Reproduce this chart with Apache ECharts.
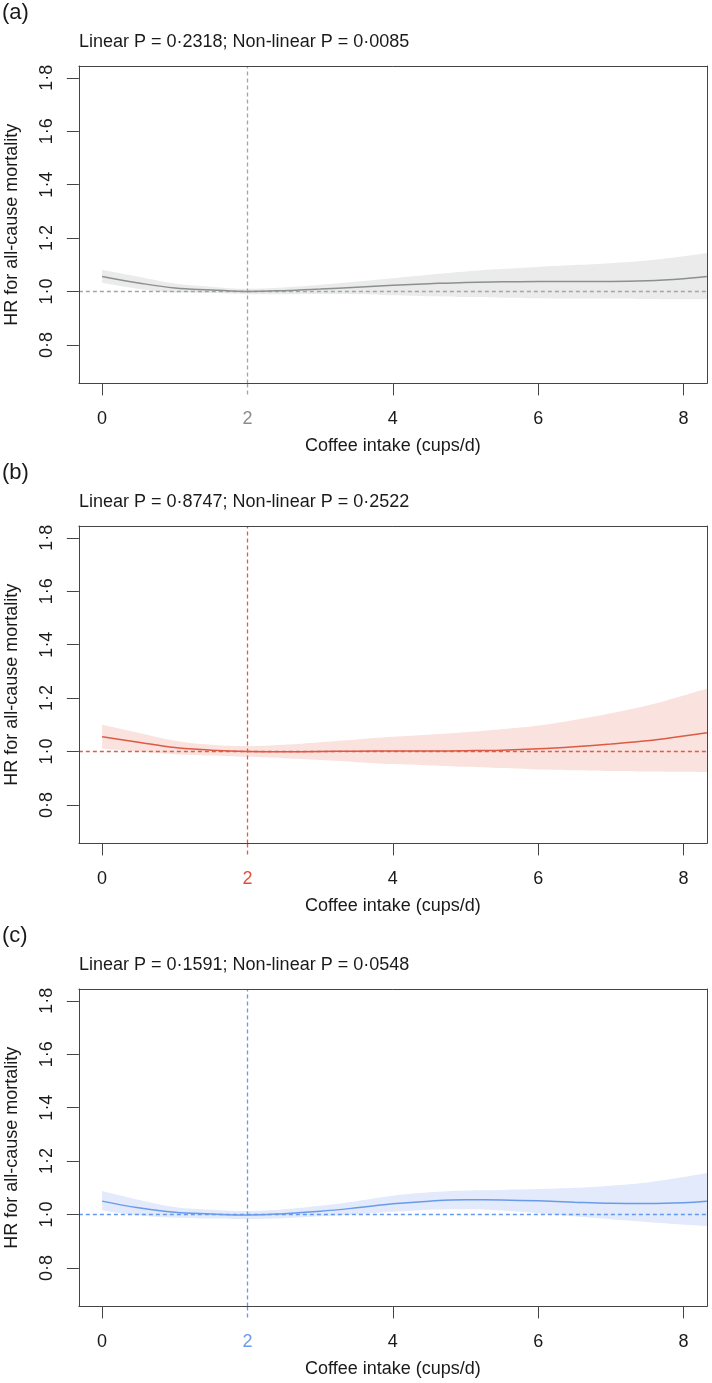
<!DOCTYPE html>
<html><head><meta charset="utf-8">
<script src="https://cdn.jsdelivr.net/npm/echarts@6/dist/echarts.min.js"></script>
<style>html,body{margin:0;padding:0;background:#fff}#c{width:712px;height:1383px}</style>
</head><body><div id="c"></div>
<script>
// ---- data ----
const xs = [0, 0.5, 1, 1.5, 2, 2.5, 3, 3.5, 4, 4.5, 5, 5.5, 6, 6.5, 7, 7.5, 8, 8.32];
const hrA    = [1.056,1.032,1.013,1.006,1.000,1.003,1.009,1.016,1.023,1.029,1.034,1.036,1.037,1.037,1.037,1.040,1.048,1.056];
const upperA = [1.081,1.055,1.030,1.018,1.010,1.015,1.025,1.037,1.050,1.063,1.075,1.084,1.092,1.099,1.106,1.116,1.132,1.144];
const lowerA = [1.033,1.010,0.996,0.994,0.990,0.990,0.991,0.990,0.986,0.982,0.979,0.977,0.975,0.974,0.974,0.972,0.971,0.971];
const hrB    = [1.055,1.035,1.015,1.005,1.000,0.999,1.000,1.001,1.002,1.002,1.003,1.005,1.010,1.018,1.028,1.040,1.058,1.070];
const upperB = [1.100,1.070,1.040,1.025,1.020,1.025,1.035,1.045,1.055,1.063,1.072,1.083,1.097,1.118,1.143,1.172,1.210,1.235];
const lowerB = [1.010,1.000,0.990,0.985,0.980,0.975,0.968,0.960,0.953,0.948,0.943,0.938,0.933,0.930,0.927,0.925,0.924,0.923];
const hrC    = [1.050,1.025,1.008,1.002,0.998,1.003,1.012,1.025,1.040,1.050,1.055,1.054,1.051,1.046,1.042,1.041,1.044,1.050];
const upperC = [1.088,1.055,1.028,1.018,1.013,1.020,1.033,1.050,1.070,1.083,1.090,1.092,1.095,1.100,1.108,1.120,1.140,1.155];
const lowerC = [1.015,0.997,0.988,0.985,0.983,0.986,0.993,1.000,1.010,1.018,1.020,1.015,1.005,0.993,0.982,0.972,0.962,0.957];
const xTicks = [0, 2, 4, 6, 8];
const yTicks = [0.8, 1.0, 1.2, 1.4, 1.6, 1.8];
const refX = 2, refY = 1.0;
const panelLabels = ['(a)', '(b)', '(c)'];
const pTexts = ['Linear P = 0·2318; Non-linear P = 0·0085',
                'Linear P = 0·8747; Non-linear P = 0·2522',
                'Linear P = 0·1591; Non-linear P = 0·0548'];
const xName = 'Coffee intake (cups/d)';
const yName = 'HR for all-cause mortality';

// ---- styling ----
const panels = [
  {hr: hrA, up: upperA, lo: lowerA, line: '#8a928b', band: '#ebebeb', ref: '#a4a4a4', hl: '#8c8c8c'},
  {hr: hrB, up: upperB, lo: lowerB, line: '#dd5a44', band: '#fae2de', ref: '#e65a45', hl: '#e0503c'},
  {hr: hrC, up: upperC, lo: lowerC, line: '#6a9be9', band: '#e2eafb', ref: '#6399ee', hl: '#6b9be9'}
];
const FONT = 'Liberation Sans, Arial, Helvetica, sans-serif';
const TXT = '#1a1a1a';
const BOX = '#444';
const tops = [66, 526, 989];
const LEFT = 78.87, W = 628;
const H = 317.4;
const XMIN = -0.32, XMAX = 8.32, YMIN = 0.656, YMAX = 1.844;

const option = {animation: false, backgroundColor: '#fff',
  title: [], grid: [], xAxis: [], yAxis: [], series: []};

const boxLine = {show: true, onZero: false, lineStyle: {color: BOX, width: 1}};

panels.forEach((p, i) => {
  const top = tops[i];
  option.title.push({text: panelLabels[i], left: 2, top: top - 64,
    textStyle: {fontFamily: FONT, fontSize: 22, fontWeight: 'normal', color: TXT}, padding: 0});
  option.title.push({text: pTexts[i], left: 79, top: top - 33,
    textStyle: {fontFamily: FONT, fontSize: 18, fontWeight: 'normal', color: TXT}, padding: 0});
  option.grid.push({left: LEFT, width: W, top: top, height: H, show: false,
    outerBoundsMode: 'none', containLabel: false});
  const xMain = option.xAxis.length;
  option.xAxis.push({type: 'value', gridIndex: i, min: XMIN, max: XMAX, position: 'bottom', z: 5,
    name: xName, nameLocation: 'middle', nameGap: 54,
    nameTextStyle: {fontFamily: FONT, fontSize: 18, color: TXT},
    axisLine: boxLine, splitLine: {show: false},
    axisTick: {show: true, length: 12, lineStyle: {color: BOX, width: 1},
      customValues: xTicks.filter(v => v !== refX)},
    axisLabel: {show: true, margin: 27, fontFamily: FONT, fontSize: 18, color: TXT,
      customValues: xTicks,
      formatter: v => v === refX ? '{hl|' + v + '}' : String(v),
      rich: {hl: {color: p.hl, fontFamily: FONT, fontSize: 18}}}});
  option.xAxis.push({type: 'value', gridIndex: i, min: XMIN, max: XMAX, position: 'bottom', z: 4,
    axisLine: {show: false, onZero: false}, splitLine: {show: false}, axisLabel: {show: false},
    axisTick: {show: true, length: 12, customValues: [refX],
      lineStyle: {color: p.ref, width: 1.3, type: [4, 3]}}});
  option.xAxis.push({type: 'value', gridIndex: i, min: XMIN, max: XMAX, position: 'top', z: 5,
    axisLine: boxLine, splitLine: {show: false}, axisLabel: {show: false}, axisTick: {show: false}});
  const yMain = option.yAxis.length;
  option.yAxis.push({type: 'value', gridIndex: i, min: YMIN, max: YMAX, position: 'left', z: 5,
    name: yName, nameLocation: 'middle', nameGap: 58,
    nameTextStyle: {fontFamily: FONT, fontSize: 18, color: TXT},
    axisLine: boxLine, splitLine: {show: false},
    axisTick: {show: true, length: 12, lineStyle: {color: BOX, width: 1}, customValues: yTicks},
    axisLabel: {show: true, rotate: 90, margin: 23, fontFamily: FONT, fontSize: 18, color: TXT,
      customValues: yTicks, formatter: v => v.toFixed(1).replace('.', '·')}});
  option.yAxis.push({type: 'value', gridIndex: i, min: YMIN, max: YMAX, position: 'right', z: 5,
    axisLine: boxLine, splitLine: {show: false}, axisLabel: {show: false}, axisTick: {show: false}});
  // confidence band: stacked (lower + width), values given as [y, x] so the y column is stacked
  const stackId = 'band' + i;
  option.series.push({type: 'line', xAxisIndex: xMain, yAxisIndex: yMain, stack: stackId,
    encode: {x: 1, y: 0},
    data: xs.map((x, k) => [p.lo[k], x]), symbol: 'none', smooth: 0.4,
    lineStyle: {width: 0, opacity: 0}, silent: true, z: 1});
  option.series.push({type: 'line', xAxisIndex: xMain, yAxisIndex: yMain, stack: stackId,
    encode: {x: 1, y: 0},
    data: xs.map((x, k) => [+(p.up[k] - p.lo[k]).toFixed(4), x]), symbol: 'none', smooth: 0.4,
    lineStyle: {width: 0, opacity: 0}, areaStyle: {color: p.band, opacity: 1},
    silent: true, z: 1});
  // reference lines (x = 2 and HR = 1) across the plotting region
  const refStyle = {color: p.ref, width: 1.3, type: [4, 3]};
  option.series.push({type: 'line', xAxisIndex: xMain, yAxisIndex: yMain, silent: true, z: 2,
    data: [[refX, YMIN], [refX, YMAX]], symbol: 'none', itemStyle: {color: p.ref}, lineStyle: refStyle});
  option.series.push({type: 'line', xAxisIndex: xMain, yAxisIndex: yMain, silent: true, z: 2,
    data: [[XMIN, refY], [XMAX, refY]], symbol: 'none', itemStyle: {color: p.ref}, lineStyle: refStyle});
  option.series.push({type: 'line', xAxisIndex: xMain, yAxisIndex: yMain,
    data: xs.map((x, k) => [x, p.hr[k]]), symbol: 'none', smooth: 0.4,
    itemStyle: {color: p.line}, lineStyle: {color: p.line, width: 1.5}, z: 3});
});

const chart = echarts.init(document.getElementById('c'), null, {renderer: 'canvas'});
chart.setOption(option);
</script></body></html>
